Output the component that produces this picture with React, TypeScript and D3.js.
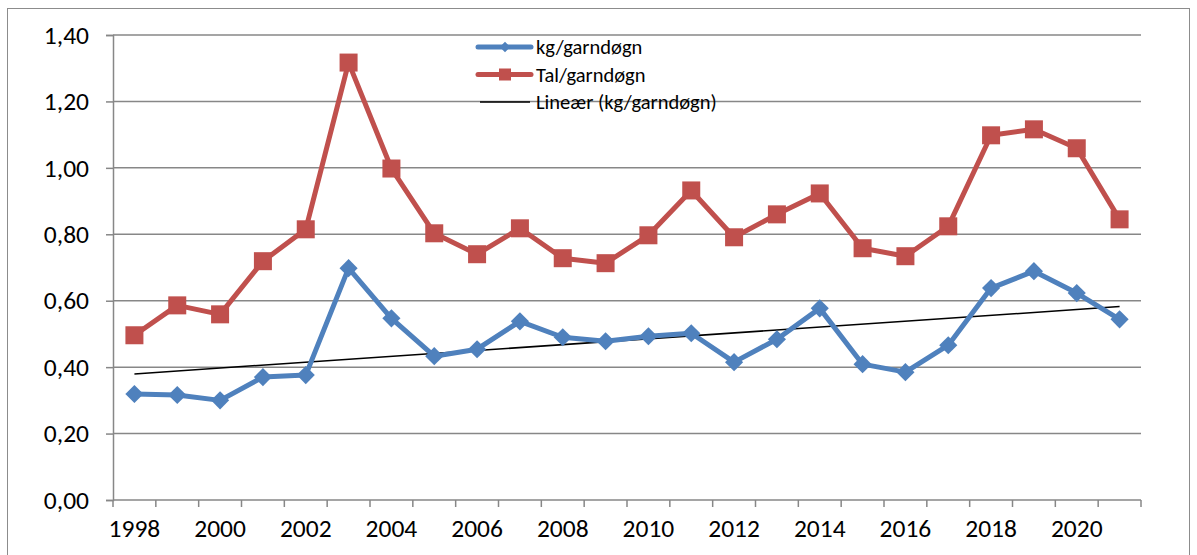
import React, { useEffect, useRef } from "react";
import * as d3 from "d3";

const years = d3.range(1998, 2022).map(String);
const kgPerDay = [
  0.319, 0.316, 0.3, 0.37, 0.376, 0.698, 0.547, 0.433, 0.454, 0.538, 0.49, 0.478,
  0.493, 0.502, 0.415, 0.484, 0.577, 0.409, 0.385, 0.466, 0.638, 0.689, 0.623, 0.544,
];
const countPerDay = [
  0.496, 0.586, 0.559, 0.719, 0.815, 1.317, 0.998, 0.803, 0.74, 0.818, 0.728, 0.713,
  0.797, 0.932, 0.791, 0.86, 0.923, 0.758, 0.734, 0.824, 1.098, 1.116, 1.059, 0.845,
];
const yTicks = [0, 0.2, 0.4, 0.6, 0.8, 1.0, 1.2, 1.4];
const legendLabels = ["kg/garndøgn", "Tal/garndøgn", "Lineær (kg/garndøgn)"];

const BLUE = "#4F81BD";
const RED = "#C0504D";
const GRID = "#878787";
const FONT = "Carlito, 'Liberation Sans', Arial, sans-serif";

export default function App() {
  const svgRef = useRef<SVGSVGElement>(null);
  const width = 1197;
  const height = 555;
  const margin = { top: 35, right: 56, bottom: 55, left: 113 };

  useEffect(() => {
    if (!svgRef.current) return;
    const svg = d3.select(svgRef.current);
    svg.selectAll("*").remove();

    // outer frame
    svg.append("rect")
      .attr("x", 7.5).attr("y", 8.5).attr("width", 1182).attr("height", 560)
      .attr("fill", "#fff").attr("stroke", "#8c8c8c").attr("stroke-width", 1);

    const x = d3.scaleBand().domain(years).range([margin.left, width - margin.right]);
    const y = d3.scaleLinear().domain([0, 1.4]).range([height - margin.bottom, margin.top]);
    const cx = (i: number) => (x(years[i]) || 0) + x.bandwidth() / 2;

    const g = svg.append("g");

    // gridlines
    g.append("g").selectAll("line").data(yTicks.slice(1)).enter().append("line")
      .attr("x1", margin.left).attr("x2", width - margin.right)
      .attr("y1", d => y(d)).attr("y2", d => y(d))
      .attr("stroke", GRID).attr("stroke-width", 1.5);

    // y axis
    const yAxis = g.append("g")
      .attr("transform", `translate(${margin.left},0)`)
      .call(d3.axisLeft(y).tickValues(yTicks).tickSize(7).tickPadding(17)
        .tickFormat(d => d3.format(".2f")(d as number).replace(".", ",")));
    yAxis.select(".domain").attr("stroke", GRID).attr("stroke-width", 1.5);
    yAxis.selectAll(".tick line").attr("stroke", GRID).attr("stroke-width", 1.5);
    yAxis.selectAll("text").attr("font-size", 25.5).attr("font-family", FONT).attr("fill", "#000");

    // x axis
    const xAxisY = y(0);
    const xa = g.append("g").attr("transform", `translate(0,${xAxisY})`);
    xa.append("line").attr("x1", margin.left).attr("x2", width - margin.right)
      .attr("stroke", GRID).attr("stroke-width", 1.5);
    const boundaries = years.map(yr => x(yr) || 0).concat([width - margin.right]);
    xa.selectAll("line.tk").data(boundaries).enter().append("line")
      .attr("class", "tk")
      .attr("x1", d => d).attr("x2", d => d).attr("y1", 0).attr("y2", 7)
      .attr("stroke", GRID).attr("stroke-width", 1.5);
    xa.selectAll("text").data(years.filter((_, i) => i % 2 === 0)).enter().append("text")
      .attr("x", d => (x(d) || 0) + x.bandwidth() / 2)
      .attr("y", 37)
      .attr("text-anchor", "middle")
      .attr("font-size", 25.5).attr("font-family", FONT).attr("fill", "#000")
      .text(d => d);

    // linear trend of kg series
    const n = kgPerDay.length;
    const xs = d3.range(n);
    const mx = d3.mean(xs) as number;
    const my = d3.mean(kgPerDay) as number;
    const slope = d3.sum(xs, i => (i - mx) * (kgPerDay[i] - my)) / d3.sum(xs, i => (i - mx) ** 2);
    const icpt = my - slope * mx;
    g.append("line")
      .attr("x1", cx(0)).attr("y1", y(icpt))
      .attr("x2", cx(n - 1)).attr("y2", y(icpt + slope * (n - 1)))
      .attr("stroke", "#000").attr("stroke-width", 1.5);

    const line = d3.line<number>().x((_, i) => cx(i)).y(d => y(d));

    // red series
    g.append("path").datum(countPerDay).attr("d", line)
      .attr("fill", "none").attr("stroke", RED).attr("stroke-width", 5).attr("stroke-linejoin", "round");
    g.append("g").selectAll("rect").data(countPerDay).enter().append("rect")
      .attr("x", (_, i) => cx(i) - 9).attr("y", d => y(d) - 9)
      .attr("width", 18).attr("height", 18).attr("fill", RED);

    // blue series
    g.append("path").datum(kgPerDay).attr("d", line)
      .attr("fill", "none").attr("stroke", BLUE).attr("stroke-width", 5).attr("stroke-linejoin", "round");
    g.append("g").selectAll("path").data(kgPerDay).enter().append("path")
      .attr("d", d3.symbol(d3.symbolDiamond2, 210) as any)
      .attr("transform", (d, i) => `translate(${cx(i)},${y(d)})`)
      .attr("fill", BLUE);

    // legend
    const lg = svg.append("g").attr("transform", "translate(478,47)");
    legendLabels.forEach((lbl, i) => {
      const row = lg.append("g").attr("transform", `translate(0,${i * 27.5})`);
      if (i === 2) {
        row.append("line").attr("x1", 2).attr("x2", 52).attr("stroke", "#000").attr("stroke-width", 1.5);
      } else {
        row.append("line").attr("x1", 0).attr("x2", 53)
          .attr("stroke", i === 0 ? BLUE : RED).attr("stroke-width", 5).attr("stroke-linecap", "round");
        if (i === 0) {
          row.append("path").attr("d", d3.symbol(d3.symbolDiamond2, 70) as any)
            .attr("transform", "translate(27,0)").attr("fill", BLUE);
        } else {
          row.append("rect").attr("x", 21).attr("y", -6).attr("width", 12).attr("height", 12).attr("fill", RED);
        }
      }
      row.append("text").attr("x", 58).attr("y", 7)
        .attr("font-size", 20.5).attr("font-family", FONT).attr("fill", "#000")
        .text(lbl);
    });
  }, []);

  return (
    <svg ref={svgRef} width={width} height={height}
      style={{ position: "absolute", left: 0, top: 0, background: "#fff" }} />
  );
}
